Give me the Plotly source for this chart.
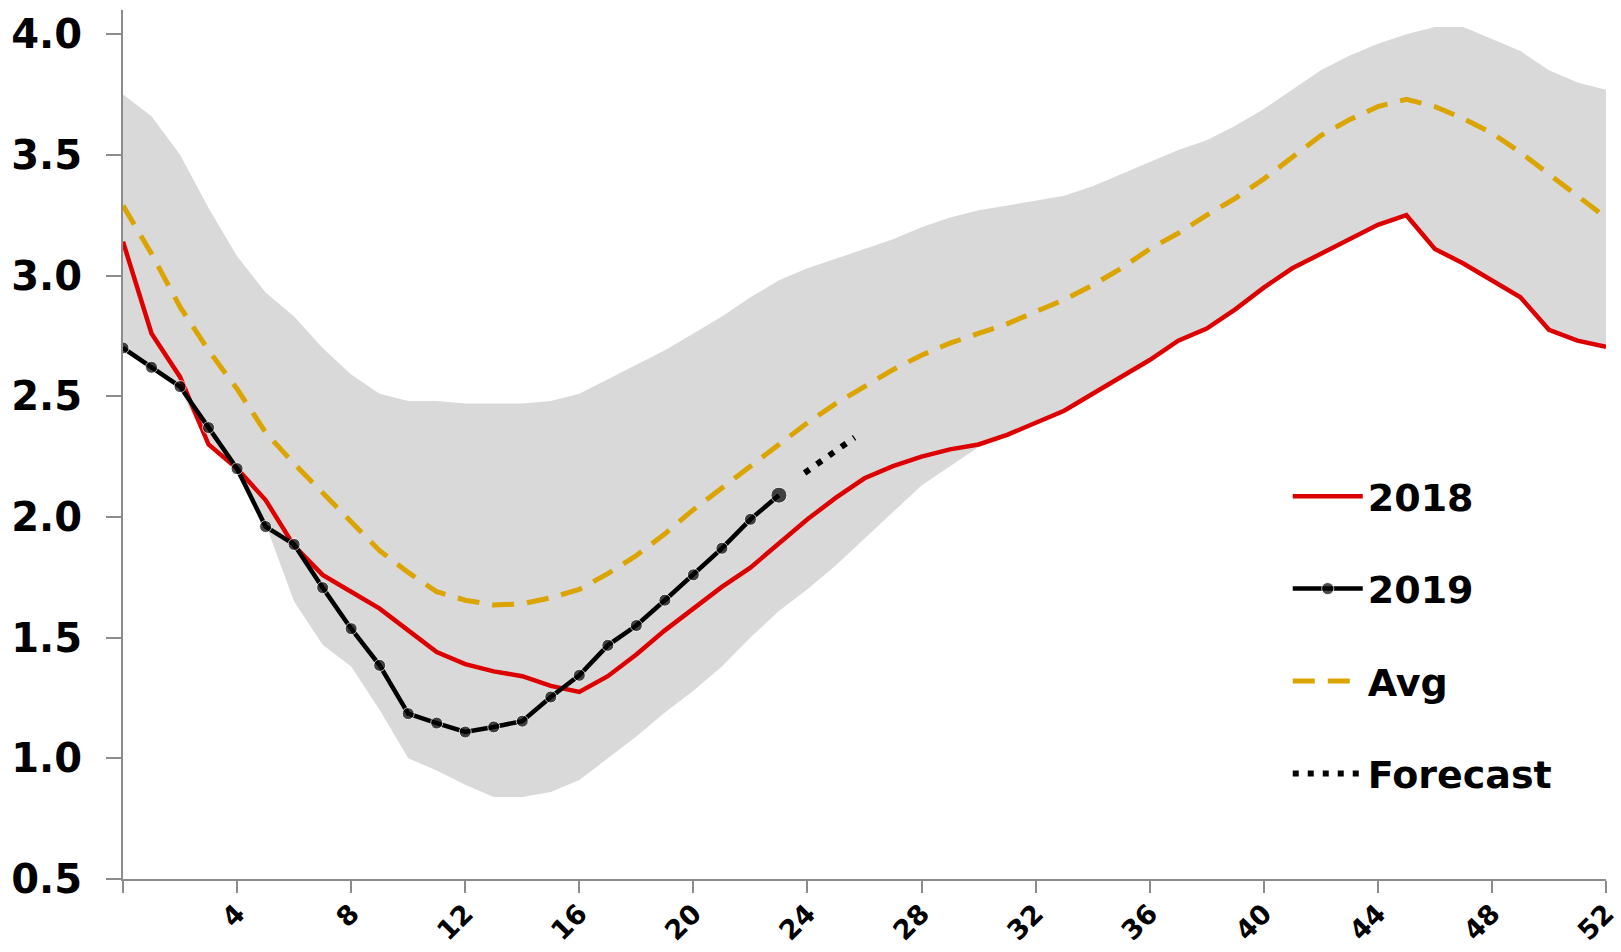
import plotly.graph_objects as go

# ---------------- data ----------------
weeks = list(range(53))

series_2018 = [3.14, 2.76, 2.58, 2.30, 2.20, 2.07, 1.88, 1.76, 1.69, 1.62,
               1.53, 1.44, 1.39, 1.36, 1.34, 1.30, 1.275, 1.34, 1.43, 1.53,
               1.62, 1.71, 1.79, 1.89, 1.99, 2.08, 2.16, 2.21, 2.25, 2.28,
               2.30, 2.34, 2.39, 2.44, 2.51, 2.58, 2.65, 2.73, 2.78, 2.86,
               2.95, 3.03, 3.09, 3.15, 3.21, 3.25, 3.11, 3.05, 2.98, 2.91,
               2.775, 2.73, 2.705]

weeks_2019 = list(range(24))
series_2019 = [2.70, 2.62, 2.54, 2.37, 2.20, 1.96, 1.886, 1.707, 1.537, 1.385,
               1.185, 1.146, 1.109, 1.13, 1.154, 1.254, 1.344, 1.468, 1.55, 1.655,
               1.76, 1.87, 1.99, 2.09]

series_avg = [3.29, 3.09, 2.87, 2.69, 2.53, 2.35, 2.22, 2.10, 1.98, 1.86,
              1.77, 1.69, 1.655, 1.635, 1.64, 1.665, 1.70, 1.765, 1.84, 1.93,
              2.03, 2.12, 2.21, 2.30, 2.39, 2.47, 2.54, 2.61, 2.67, 2.72,
              2.76, 2.80, 2.85, 2.90, 2.96, 3.03, 3.11, 3.175, 3.25, 3.32,
              3.40, 3.49, 3.58, 3.645, 3.70, 3.73, 3.70, 3.65, 3.59, 3.51,
              3.42, 3.33, 3.24]

band_upper = [3.75, 3.66, 3.50, 3.28, 3.08, 2.93, 2.83, 2.70, 2.59, 2.51,
              2.48, 2.48, 2.47, 2.47, 2.47, 2.48, 2.51, 2.57, 2.63, 2.69,
              2.76, 2.83, 2.91, 2.98, 3.03, 3.07, 3.11, 3.15, 3.20, 3.24,
              3.27, 3.29, 3.31, 3.33, 3.37, 3.42, 3.47, 3.52, 3.56, 3.62,
              3.69, 3.77, 3.85, 3.91, 3.96, 4.00, 4.03, 4.03, 3.98, 3.93,
              3.85, 3.80, 3.77]

band_lower = [2.70, 2.61, 2.53, 2.29, 2.19, 1.97, 1.65, 1.47, 1.38, 1.20,
              1.00, 0.95, 0.89, 0.84, 0.84, 0.86, 0.91, 1.00, 1.09, 1.19,
              1.28, 1.38, 1.50, 1.61, 1.70, 1.80, 1.91, 2.02, 2.13, 2.21,
              2.29, 2.34, 2.39, 2.44, 2.51, 2.58, 2.65, 2.73, 2.78, 2.86,
              2.95, 3.03, 3.09, 3.15, 3.21, 3.25, 3.11, 3.05, 2.98, 2.91,
              2.775, 2.73, 2.705]

forecast_weeks = [23.9, 25.65]
forecast_vals = [2.182, 2.329]

x_tick_vals = list(range(0, 53, 4))
x_tick_labels = [""] + [str(v) for v in range(4, 53, 4)]
y_tick_vals = [0.5, 1.0, 1.5, 2.0, 2.5, 3.0, 3.5, 4.0]
y_tick_labels = ["0.5", "1.0", "1.5", "2.0", "2.5", "3.0", "3.5", "4.0"]

# ---------------- styles ----------------
FONT = "DejaVu Sans"
RED = "#DD0000"
GOLD = "#DBA400"
BAND = "#D9D9D9"
AXIS = "#8C8C8C"

fig = go.Figure()

# range band (min/max of previous years)
fig.add_trace(go.Scatter(
    x=weeks + weeks[::-1],
    y=band_upper + band_lower[::-1],
    fill="toself", fillcolor=BAND, mode="lines",
    line=dict(width=0, color=BAND), hoverinfo="skip", showlegend=False,
))

fig.add_trace(go.Scatter(
    x=weeks, y=series_avg, name="Avg", mode="lines",
    line=dict(color=GOLD, width=5, dash="22px,13px"),
    legendgroup="avg", legendrank=3,
))

fig.add_trace(go.Scatter(
    x=weeks, y=series_2018, name="2018", mode="lines",
    line=dict(color=RED, width=4.5),
    legendgroup="2018", legendrank=1,
))

marker_sizes = [12] * (len(series_2019) - 1) + [16]
fig.add_trace(go.Scatter(
    x=weeks_2019, y=series_2019, name="2019", mode="lines+markers",
    line=dict(color="black", width=4.5),
    marker=dict(color="black", size=marker_sizes),
    legendgroup="2019", legendrank=2,
))

fig.add_trace(go.Scatter(
    x=forecast_weeks, y=forecast_vals, name="Forecast", mode="lines",
    line=dict(color="black", width=6, dash="6px,9px"),
    legendgroup="fc", legendrank=4,
))

fig.update_layout(
    width=1621, height=952,
    margin=dict(l=123, r=15, t=10, b=73, autoexpand=False),
    plot_bgcolor="white", paper_bgcolor="white",
    font=dict(family=FONT, color="black"),
    showlegend=True,
    legend=dict(
        x=0.7854, y=0.4764, xanchor="left", yanchor="top",
        font=dict(family=FONT, size=38, color="black", weight="bold"),
        itemwidth=70, tracegroupgap=40, traceorder="grouped",
        bgcolor="rgba(0,0,0,0)", borderwidth=0,
    ),
    xaxis=dict(
        range=[0, 52], tickmode="array", tickvals=x_tick_vals, ticktext=x_tick_labels,
        tickangle=-45, ticks="outside", ticklen=12, tickwidth=2, tickcolor=AXIS,
        showline=True, linecolor=AXIS, linewidth=2, showgrid=False, zeroline=False,
        tickfont=dict(family=FONT, size=27, color="black", weight="bold"),
        ticklabelstandoff=-6, automargin=False, ticklabeloverflow="allow",
    ),
    yaxis=dict(
        range=[0.5, 4.1], tickmode="array", tickvals=y_tick_vals, ticktext=y_tick_labels,
        ticks="outside", ticklen=15, tickwidth=2, tickcolor=AXIS,
        showline=True, linecolor=AXIS, linewidth=2, showgrid=False, zeroline=False,
        tickfont=dict(family=FONT, size=40, color="black", weight="bold"),
        ticklabelstandoff=16, automargin=False,
    ),
)

fig.write_html("out.html", config={"displayModeBar": False},
               post_script="document.body.style.margin='0';")
